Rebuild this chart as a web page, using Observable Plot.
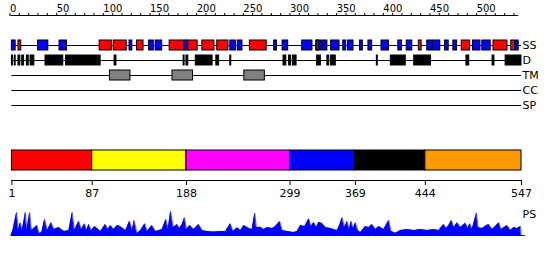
<!DOCTYPE html>
<html>
<head>
<meta charset="utf-8">
<script src="https://cdn.jsdelivr.net/npm/d3@7"></script>
<script src="https://cdn.jsdelivr.net/npm/@observablehq/plot@0.6"></script>
<style>
  html, body { margin: 0; padding: 0; background: #fff; }
  #wrap { position: relative; width: 550px; height: 260px; overflow: hidden; }
</style>
</head>
<body>
<div id="wrap"></div>
<script>
// ---------- data ----------
const seqLength = 547;
const rulerTicks = d3.range(0, 541, 10);
const tracks = ["SS", "D", "TM", "CC", "SP"];

// secondary structure: H = helix (red), E = strand (blue)
const ssType  = ["E","H","E","E","H","H","E","H","E","E","H","E","H","H","H","E","E","H","E","E","E","E","H","E","E","E","E","E","E","E","E","E","H","E","E","E","E","H","E","E","H","H","E"];
const ssStart = [1,8,29,52,95,110,127,135,148,155,170,186,190,205,221,235,243,256,282,291,312,327,328,334,343,356,361,374,383,397,415,424,437,446,452,465,474,483,495,505,517,536,541];
const ssEnd   = [5,11,40,60,108,124,130,142,153,162,186,190,200,218,233,241,248,274,285,297,323,333,330,339,352,359,367,377,387,405,419,430,440,451,460,469,478,492,503,514,532,540,544];

// disordered regions
const disStart = [1,4,8,12,17,21,37,59,94,111,185,188,198,220,235,292,298,302,328,339,343,346,392,407,432,488,516,530];
const disEnd   = [2,5,10,14,19,25,56,93,96,113,186,190,216,223,236,295,300,306,332,341,345,348,393,423,450,491,518,547];

// transmembrane segments
const tmStart = [106,173,250];
const tmEnd   = [128,195,272];

// domain boundaries
const domStart  = [1, 87, 188, 299, 369, 444];
const domEnd    = [87, 188, 299, 369, 444, 547];
const domColor  = ["#ff0000", "#ffff00", "#ff00ff", "#0000ff", "#000000", "#ff9900"];
const domTicks  = [1, 87, 188, 299, 369, 444, 547];

// PS profile (position, score)
const psPos = [0,2,6,8,10,12,15.5,17,20,22,24.5,28,30,33,36,39,43,46,51,57,62,65.6,68,72.6,75.5,78.8,81,83.4,86,89.8,96,101,104,106.6,110,114,117,123,127,130,132,135,139,143.4,146,151,155,162,166,168.4,171,174,178,180.5,183.4,186,188,191.6,196,201,205,210,217,224.5,230,235,238,242.4,246,249.5,255,258.4,261.2,263,267.3,271,274.5,280,283.4,288,290.6,296,303,306.6,310.2,314.8,319.1,321.6,324.5,327.3,329.8,333.4,337,342.3,349.5,352,354.9,357.3,360.2,362.4,364.5,366.7,369.1,371.6,374.5,379.8,383.4,387,390.6,394.1,399.4,404.8,407.3,412,417.3,424.5,431.6,438.8,445.9,453,458.4,463.7,466.3,469.1,472,474.5,478.1,481.6,487,489.5,491.6,494.1,498.8,500.5,504.9,509.5,511.9,515.6,519.1,522.7,525.2,531.6,535.2,538.7,542.4,546,546.7];
const psVal = [0,5,23,5,12.7,5,23,5,23,5,7,10,2,3,16,5,12.7,6,8,4,5,23,5,14,6,11.7,5,11,5,9,4,11,6,10,6,10,9,5,14.3,5,15,2,5,11.7,4,10,4,6,16,6,24,8,11,7,11,17.7,6,10,6,11,5,4,3.5,4,4,11.7,4,7.7,5,10,7,6,22.3,8,8.3,6,8,7,9,14,5,4,3,4,10,9,16.7,9,13,8,13.3,12,8,7,5,10,17.7,8,14,6,14,7,12.7,5,3,9,8,11,6,9,6,15,4,2.3,5,6,5,6,5,6,5,11,7,10,15,8,12.7,8,12.3,7,11.7,6,22.3,8,7,10,11,6,9,12.7,6,10,5,8,7,9,0];

// ---------- build tables ----------
const ss  = ssType.map((t, i) => ({type: t, start: ssStart[i], end: ssEnd[i]}));
const dis = disStart.map((s, i) => ({start: s, end: disEnd[i]}));
const tm  = tmStart.map((s, i) => ({start: s, end: tmEnd[i]}));
const doms = domStart.map((s, i) => ({start: s, end: domEnd[i], color: domColor[i]}));
const ps = psPos.map((p, i) => ({pos: p, val: psVal[i]}));

const X = {domain: [0, seqLength], range: [10.5, 521]};
const FONT = "DejaVu Sans";
const layer = "position:absolute;top:0;left:0;background:transparent;overflow:visible;max-width:none;";

const wrap = document.getElementById("wrap");

// ruler
wrap.append(Plot.plot({
  width: 550, height: 260, marginTop: 15, marginBottom: 0, marginLeft: 0, marginRight: 0,
  style: layer + "font-family:'" + FONT + "';",
  x: {...X, axis: null},
  y: {domain: [0, 1], range: [15, 16], axis: null},
  marks: [
    Plot.axisX(rulerTicks, {anchor: "top", tickSize: 3, tickPadding: 1,
      tickFormat: d => d % 50 === 0 ? String(d) : "", textAnchor: "start", dx: -1,
      fontSize: 10, fill: "black", stroke: "black"}),
    Plot.ruleY([0], {x1: 0, x2: 544, stroke: "black"})
  ]
}));

// feature tracks
wrap.append(Plot.plot({
  width: 550, height: 260, margin: 0,
  style: layer + "font-family:'" + FONT + "';",
  x: {...X, axis: null},
  y: {type: "band", domain: tracks, range: [37.5, 112.5], paddingInner: 1/3, paddingOuter: 1/6, axis: null},
  marks: [
    Plot.ruleY(tracks, {y: d => d, x1: 1, x2: seqLength, stroke: "black"}),
    Plot.barX(ss, {x1: "start", x2: "end", y: () => "SS",
      fill: d => d.type === "H" ? "#ff0000" : "#0000ff", stroke: "black", strokeWidth: 1}),
    Plot.barX(dis, {x1: "start", x2: "end", y: () => "D", fill: "black", stroke: "black"}),
    Plot.barX(tm, {x1: "start", x2: "end", y: () => "TM", fill: "#808080", stroke: "black"}),
    Plot.text(tracks, {x: seqLength, y: d => d, text: d => d, textAnchor: "start", dx: 1,
      fontSize: 11, fill: "black"})
  ]
}));

// domains
wrap.append(Plot.plot({
  width: 550, height: 260, marginTop: 150, marginBottom: 80, marginLeft: 0, marginRight: 0,
  style: layer + "font-family:'" + FONT + "';",
  x: {...X, axis: null},
  y: {domain: [0, 1], range: [170, 150], axis: null},
  marks: [
    Plot.rect(doms, {x1: "start", x2: "end", y1: 0, y2: 1, fill: "color", stroke: "black"}),
    Plot.ruleY([-0.5], {x1: 1, x2: seqLength, stroke: "black"}),
    Plot.axisX(domTicks, {anchor: "bottom", tickSize: 5, tickPadding: 4, fontSize: 11,
      tickFormat: d => String(d), fill: "black", stroke: "black"})
  ]
}));

// PS profile
wrap.append(Plot.plot({
  width: 550, height: 260, marginTop: 210, marginBottom: 25, marginLeft: 0, marginRight: 29,
  style: layer + "font-family:'" + FONT + "';",
  x: {...X, axis: null},
  y: {domain: [0, 25], range: [235, 210], axis: null},
  marks: [
    Plot.areaY(ps, {x: "pos", y: "val", fill: "#0000ff", curve: "linear"}),
    Plot.lineY(ps, {x: "pos", y: "val", stroke: "#0000ff", strokeWidth: 0.6}),
    Plot.ruleY([0], {x1: 0, x2: 551, stroke: "#0000ff"}),
    Plot.text(["PS"], {frameAnchor: "top-right", text: d => d, textAnchor: "start", dx: 1,
      fontSize: 11, fill: "black"})
  ]
}));
</script>
</body>
</html>
